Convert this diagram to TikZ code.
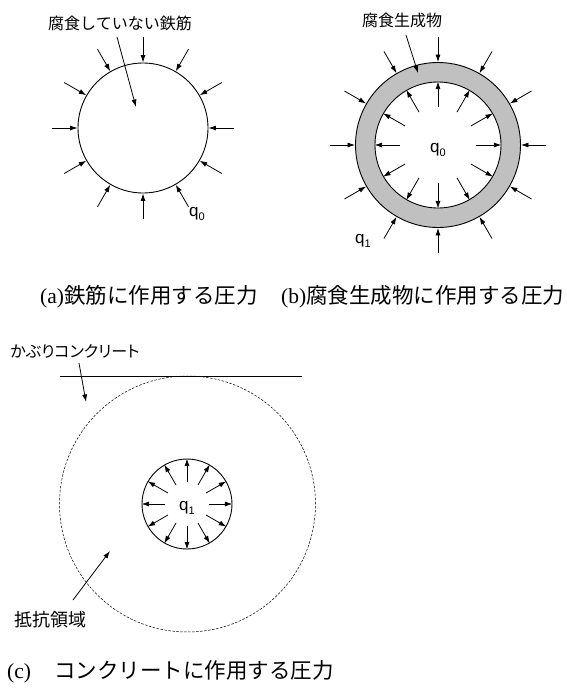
\documentclass[tikz,border=0pt]{standalone}
\usepackage{fontspec}
\setmainfont{Liberation Serif}
\newfontfamily\jp{Noto Sans CJK JP}
\newfontfamily\jpp[RawFeature=+palt]{Noto Sans CJK JP}
\newfontfamily\sfq{Liberation Sans}
\usetikzlibrary{arrows.meta,calc}
\definecolor{ring}{RGB}{192,192,192}
\newcommand\qsub[1]{q\raisebox{-0.28em}{\fontsize{11}{11}\selectfont #1}}
\begin{document}
\begin{tikzpicture}[x=1pt,y=-1pt,
  ar/.style={-{Latex[length=7.5pt,width=5pt]}, line width=0.8pt},
  circ/.style={circle, draw, line width=0.9pt, inner sep=0pt, minimum size=#1},
  lbl/.style={font=\jp\fontsize{16}{18}\selectfont, inner sep=0pt},
  ql/.style={font=\sfq\fontsize{17}{19}\selectfont, inner sep=0pt},
  captxt/.style={font=\fontsize{21.5}{24}\selectfont, inner sep=0pt, anchor=west}]
\useasboundingbox (0,0) rectangle (566,689);

% ---------- (a) ----------
\node[circ=130pt] (ca) at (143,128) {};
\foreach \a in {0,30,...,330} {
  \coordinate (pa\a) at ($(ca.center)+(\a:91pt)$);
  \draw[ar] (pa\a) -- (ca.\a);
}
\node[lbl] (la) at (120,23) {腐食していない鉄筋};
\coordinate (sa) at (117,37);
\coordinate (ta) at (136,107);
\draw[ar] (sa) -- (ta);
\node[ql] (q0a) at (197,214) {\qsub{0}};

% ---------- (b) ----------
\node[circ=165pt, fill=ring] (bo) at (438,145) {};
\node[circ=126pt, fill=white] (bi) at (438,145) {};
\foreach \a in {0,30,...,330} {
  \coordinate (pb\a) at ($(bo.center)+(\a:108pt)$);
  \draw[ar] (pb\a) -- (bo.\a);
  \coordinate (qb\a) at ($(bi.center)+(\a:38pt)$);
  \draw[ar] (qb\a) -- (bi.\a);
}
\node[lbl] (lb) at (402,20) {腐食生成物};
\coordinate (sb) at (406,35);
\coordinate (tb) at (418,73);
\draw[ar] (sb) -- (tb);
\node[ql] (q0b) at (438,150) {\qsub{0}};
\node[ql] (q1b) at (363,241) {\qsub{1}};

% ---------- captions a, b ----------
\node[captxt] (capab) at (40,297) {(a){\jp 鉄筋に作用する圧力}\hspace{1.1em}(b){\jp 腐食生成物に作用する圧力}};

% ---------- (c) ----------
\coordinate (l1) at (60,376);
\coordinate (l2) at (302,376);
\draw[line width=0.9pt] (l1) -- (l2);
\node[circle, draw, line width=0.5pt, dash pattern=on 2.5pt off 1.5pt, inner sep=0pt, minimum size=256pt] (cd) at (187.5,504) {};
\node[circ=90pt] (cs) at (187,504) {};
\foreach \a in {0,30,...,330} {
  \coordinate (pc\a) at ($(cs.center)+(\a:22pt)$);
  \draw[ar] (pc\a) -- (cs.\a);
}
\node[ql] (q1c) at (187,508) {\qsub{1}};
\node[lbl, font=\jpp\fontsize{16}{18}\selectfont] (lk) at (75,351) {かぶりコンクリート};
\coordinate (sk) at (79,363);
\coordinate (tk) at (86,402);
\draw[ar] (sk) -- (tk);
\node[lbl, font=\jp\fontsize{18}{20}\selectfont] (lt) at (50,620) {抵抗領域};
\coordinate (st) at (73,600);
\coordinate (tt) at (110,551);
\draw[ar] (st) -- (tt);

% ---------- caption c ----------
\node[captxt] (capc) at (7,672) {(c)\hspace{23pt}{\jp コンクリートに作用する圧力}};
\end{tikzpicture}
\end{document}
